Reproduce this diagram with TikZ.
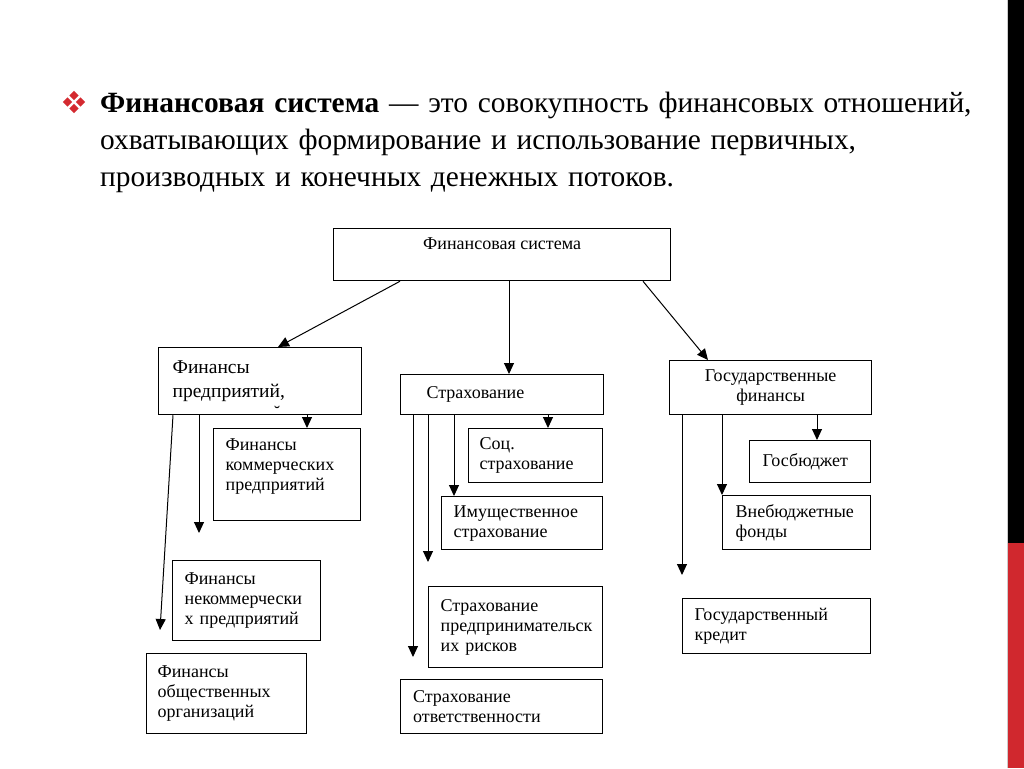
\documentclass[tikz,border=0pt]{standalone}
\usepackage{fontspec}
\setmainfont{Liberation Serif}
\usetikzlibrary{arrows.meta}
\hyphenpenalty=10000
\exhyphenpenalty=10000
\definecolor{barred}{HTML}{D0282E}
\definecolor{bulred}{HTML}{D42A30}
\newcommand\dfont{\fontsize{18}{20}\selectfont}
\newcommand\pfont{\fontsize{19.5}{24}\selectfont}
\newcommand\hfont{\fontsize{29.4}{37}\selectfont}
\begin{document}
\begin{tikzpicture}[x=1pt,y=-1pt,
  box/.style={draw, line width=1.25pt, anchor=north west, inner ysep=0pt, inner xsep=12pt, align=left, font=\dfont},
  arr/.style={line width=1pt, -{Triangle[length=11pt,width=10pt]}},
  bul/.style={fill=bulred}]
\useasboundingbox (0,0) rectangle (1024,768);
\fill[white] (0,0) rectangle (1024,768);
% right side bar
\draw[black!20, line width=1pt] (1007.5,0) -- (1007.5,768);
\fill[black] (1008,0) rectangle (1024,543);
\fill[barred] (1008,543) rectangle (1024,768);
% bullet
\foreach \dx/\dy in {0/-6.5, 0/6.5, -6.5/0, 6.5/0}
  \fill[bul] (74+\dx,102+\dy) ++(-4.6,0) -- ++(4.6,-4.6) -- ++(4.6,4.6) -- ++(-4.6,4.6) -- cycle;
% header text
\node[anchor=base west, inner sep=0pt, align=left, text width=915pt, font=\hfont] (head) at (100,112)
  {\textbf{Финансовая система} — это совокупность финансовых отношений,\\
   охватывающих формирование и использование первичных,\\
   производных и конечных денежных потоков.};
% boxes
\node[box, align=center, minimum width=337pt, minimum height=52pt, text height=13pt, text depth=24pt] (fs) at (333,228) {Финансовая система};
\node[box, font=\pfont, inner xsep=14pt, text width=175pt, minimum height=67pt] (fp) at (158,347) {Финансы\\предприятий,};
\node[anchor=base, inner sep=0pt, font=\dfont] (brv) at (277,418) {˘};
\node[box, inner xsep=26pt, text width=151pt, minimum height=40pt] (st) at (400,374) {Страхование};
\node[box, align=center, text width=178pt, minimum height=54pt] (gos) at (669,360) {Государственные\\финансы};
\node[box, text width=123pt, minimum height=92pt, text depth=60pt] (fkp) at (213,428) {Финансы\\коммерческих\\предприятий};
\node[box, text width=124pt, minimum height=80pt] (fnp) at (172,560) {Финансы\\некоммерчески\\х предприятий};
\node[box, inner xsep=11pt, text width=138pt, minimum height=80pt] (foo) at (146,653) {Финансы\\общественных\\организаций};
\node[box, inner xsep=11pt, text width=112pt, minimum height=54pt] (soc) at (468,428) {Соц.\\страхование};
\node[box, text width=137pt, minimum height=53pt] (imu) at (441,496) {Имущественное\\страхование};
\node[box, text width=150pt, minimum height=81pt] (spr) at (428,586) {Страхование\\предпринимательск\\их рисков};
\node[box, inner xsep=12.5pt, text width=177pt, minimum height=54pt] (sot) at (400,679) {Страхование\\ответственности};
\node[box, inner xsep=13pt, text width=95pt, minimum height=42pt] (gb) at (749,440) {Госбюджет};
\node[box, inner xsep=13pt, text width=122pt, minimum height=54pt] (vn) at (722,495) {Внебюджетные\\фонды};
\node[box, text width=164pt, minimum height=55pt] (gk) at (682,598) {Государственный\\кредит};
% free arrow ends
\coordinate (e1) at (160,630);
\coordinate (e2) at (199,533);
\coordinate (e3) at (413,657);
\coordinate (e4) at (428,562);
\coordinate (e5) at (682,575);
% connectors
\draw[arr] (fs.south -| 400,0) -- (fp.north -| 278,0);
\draw[arr] (fs.south -| 509,0) -- (st.north -| 509,0);
\draw[arr] (fs.south -| 643,0) -- (gos.north -| 708,0);
\draw[arr] (fp.south -| 173,0) -- (e1);
\draw[arr] (fp.south -| 199,0) -- (e2);
\draw[arr] (fp.south -| 307,0) -- (fkp.north -| 307,0);
\draw[arr] (st.south -| 413,0) -- (e3);
\draw[arr] (st.south -| 428,0) -- (e4);
\draw[arr] (st.south -| 454,0) -- (imu.north -| 454,0);
\draw[arr] (st.south -| 548,0) -- (soc.north -| 548,0);
\draw[arr] (gos.south -| 682,0) -- (e5);
\draw[arr] (gos.south -| 722,0) -- (vn.north -| 722,0);
\draw[arr] (gos.south -| 817,0) -- (gb.north -| 817,0);
\end{tikzpicture}
\end{document}
